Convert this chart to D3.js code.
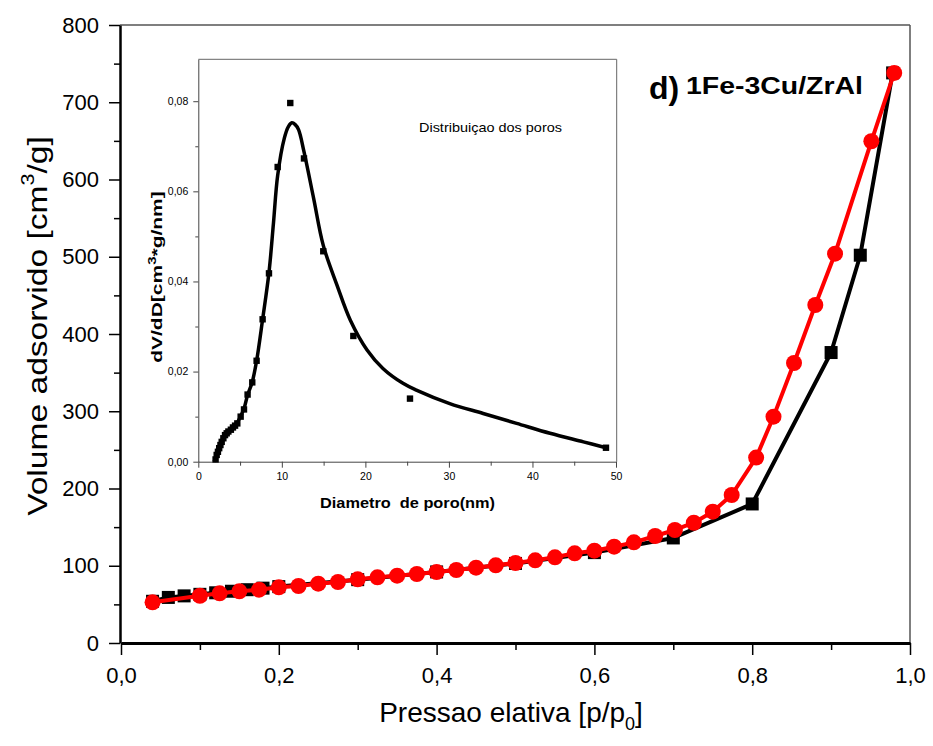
<!DOCTYPE html>
<html><head><meta charset="utf-8">
<script src="https://cdn.jsdelivr.net/npm/d3@7"></script>
<style>
html,body{margin:0;padding:0;background:#fff;}
svg{display:block;font-family:"Liberation Sans",Arial,sans-serif;}
</style></head>
<body>
<svg id="c" width="933" height="746"></svg>
<script>
// ---------- DATA ----------
// Main isotherm: black squares series
const blackP = [0.04,0.06,0.08,0.10,0.12,0.14,0.16,0.18,0.20,0.30,0.40,0.50,0.60,0.70,0.80,0.90,0.937,0.978];
const blackV = [54,59,61,63,65,67,69,71,73,82,92,103,117,136,180,376,502,738];
// Main isotherm: red circles series
const redP = [0.04,0.10,0.125,0.15,0.175,0.20,0.225,0.25,0.275,0.30,0.325,0.35,0.375,0.40,0.425,0.45,0.475,0.50,0.525,0.55,0.575,0.60,0.625,0.65,0.677,0.702,0.726,0.75,0.774,0.805,0.827,0.853,0.88,0.905,0.951,0.98];
const redV = [52.7,61.2,64.3,66.9,69,72.1,73.8,76.8,79,82.4,85,87.1,89.3,91.9,94.5,97.5,100.6,103.6,107,110.9,116.1,119.5,124.7,130.3,138.5,146.3,155.7,170,191.6,240,293,362.5,437.5,504,649.5,738];
// Inset: pore distribution points
const poreD = [2.07,2.2,2.35,2.5,2.65,2.8,3.0,3.2,3.4,3.6,3.9,4.15,4.4,4.67,5.07,5.47,5.9,6.46,6.98,7.7,8.46,9.5,11.01,12.65,14.96,18.56,25.34,48.8];
const poreV = [0.0005,0.0015,0.0022,0.003,0.0037,0.0044,0.0052,0.0059,0.0063,0.0067,0.0071,0.0076,0.0080,0.0085,0.0100,0.0116,0.0149,0.0176,0.0224,0.0316,0.0418,0.0654,0.0796,0.0673,0.0467,0.0279,0.0140,0.0031];
// Inset: fitted curve
const fitD = [1.9,2.2,2.8,3.6,4.15,4.67,5.07,5.47,5.9,6.46,6.98,7.7,8.46,9.0,9.5,10.3,10.8,11.2,11.6,12.0,12.65,13.8,14.96,16.6,18.2,20.2,22.1,24.5,26.1,30.1,34.1,38.1,42.1,46.1,48.8];
const fitV = [0,0.0015,0.0046,0.0068,0.0077,0.0087,0.0101,0.0118,0.0148,0.0177,0.0224,0.0316,0.0420,0.0530,0.0635,0.0718,0.0744,0.0752,0.0748,0.0737,0.0688,0.0585,0.0480,0.0392,0.0314,0.0248,0.0207,0.0174,0.0159,0.0129,0.0107,0.0085,0.0063,0.0044,0.0031];
// Ticks
const xMajor = [0,0.2,0.4,0.6,0.8,1.0], xMinor = [0.1,0.3,0.5,0.7,0.9];
const yMajor = [0,100,200,300,400,500,600,700,800], yMinor = [50,150,250,350,450,550,650,750];
const ixMajor = [0,10,20,30,40,50], ixMinor = [5,15,25,35,45];
const iyMajor = [0,0.02,0.04,0.06,0.08], iyMinor = [0.01,0.03,0.05,0.07];

// ---------- DRAW ----------
const svg = d3.select("#c");
const fmt1 = d => d3.format(".1f")(d).replace(".", ",");
const fmt2 = d => d3.format(".2f")(d).replace(".", ",");

const x = d3.scaleLinear().domain([0,1]).range([121,910]);
const y = d3.scaleLinear().domain([0,800]).range([643,25]);

// frame top/right
svg.append("line").attr("x1",120).attr("x2",910).attr("y1",25).attr("y2",25).attr("stroke","#000").attr("stroke-width",1.2);
svg.append("line").attr("x1",910).attr("x2",910).attr("y1",25).attr("y2",643).attr("stroke","#555").attr("stroke-width",1.5);

// axes
const gx = svg.append("g").attr("transform","translate(0,643)")
  .call(d3.axisBottom(x).tickValues(xMajor).tickFormat(fmt1).tickSize(12).tickPadding(12).tickSizeOuter(0));
svg.append("g").attr("transform","translate(0,643)")
  .call(d3.axisBottom(x).tickValues(xMinor).tickFormat("").tickSize(7).tickSizeOuter(0))
  .call(g=>g.select(".domain").remove());
const gy = svg.append("g").attr("transform","translate(120,0)")
  .call(d3.axisLeft(y).tickValues(yMajor).tickSize(11).tickPadding(10).tickSizeOuter(0));
svg.append("g").attr("transform","translate(120,0)")
  .call(d3.axisLeft(y).tickValues(yMinor).tickFormat("").tickSize(6).tickSizeOuter(0))
  .call(g=>g.select(".domain").remove());
svg.selectAll(".tick line").attr("stroke-width",1.5);
gx.select(".domain").attr("stroke-width",3);
gy.select(".domain").attr("stroke-width",2.5);
[gx,gy].forEach(g=>g.selectAll("text").attr("font-size",22).attr("font-family",'"Liberation Sans",Arial,sans-serif').attr("fill","#000"));

// axis titles
const xl = svg.append("text").attr("x",511).attr("y",722).attr("text-anchor","middle").attr("font-size",28);
xl.append("tspan").text("Pressao elativa [p/p");
xl.append("tspan").attr("font-size",18).attr("dy",8).text("0");
xl.append("tspan").attr("dy",-8).text("]");

const yl = svg.append("text").attr("transform","translate(47,326) rotate(-90) scale(1.2,1)").attr("text-anchor","middle").attr("font-size",28);
yl.append("tspan").text("Volume adsorvido [cm");
yl.append("tspan").attr("font-size",18).attr("dy",-13).text("3");
yl.append("tspan").attr("dy",13).text("/g]");

// series
const blk = blackP.map((p,i)=>({p, v:blackV[i]}));
const red = redP.map((p,i)=>({p, v:redV[i]}));
const line = d3.line().x(d=>x(d.p)).y(d=>y(d.v));
svg.append("path").datum(blk).attr("d",line).attr("fill","none").attr("stroke","#000").attr("stroke-width",4).attr("stroke-linejoin","round");
svg.append("g").selectAll("rect").data(blk).join("rect")
  .attr("x",d=>x(d.p)-6.5).attr("y",d=>y(d.v)-6.5).attr("width",13).attr("height",13).attr("fill","#000");
svg.append("path").datum(red).attr("d",line).attr("fill","none").attr("stroke","#ff0000").attr("stroke-width",4).attr("stroke-linejoin","round");
svg.append("g").selectAll("circle").data(red).join("circle")
  .attr("cx",d=>x(d.p)).attr("cy",d=>y(d.v)).attr("r",8).attr("fill","#ff0000");

// title
svg.append("text").attr("x",649).attr("y",99).attr("font-size",32).attr("font-weight","bold").text("d)");
svg.append("text").attr("x",686).attr("y",94).attr("font-size",23).attr("font-weight","bold")
  .attr("textLength",177).attr("lengthAdjust","spacingAndGlyphs").text("1Fe-3Cu/ZrAl");

// ---------- INSET ----------
const ix = d3.scaleLinear().domain([0,50]).range([198.3,616]);
const iy = d3.scaleLinear().domain([0,0.0893]).range([461.7,59.3]);
const ig = svg.append("g");
ig.append("rect").attr("x",198.3).attr("y",59.3).attr("width",616-198.3).attr("height",461.7-59.3).attr("fill","#fff");
ig.append("line").attr("x1",198.3).attr("x2",616.7).attr("y1",59.3).attr("y2",59.3).attr("stroke","#666").attr("stroke-width",1);
ig.append("line").attr("x1",616.7).attr("x2",616.7).attr("y1",59.3).attr("y2",461.7).attr("stroke","#666").attr("stroke-width",1);
const igx = ig.append("g").attr("transform","translate(0,461.7)")
  .call(d3.axisBottom(ix).tickValues(ixMajor).tickSize(6).tickPadding(5).tickSizeOuter(0));
ig.append("g").attr("transform","translate(0,461.7)")
  .call(d3.axisBottom(ix).tickValues(ixMinor).tickFormat("").tickSize(4).tickSizeOuter(0))
  .call(g=>g.select(".domain").remove());
const igy = ig.append("g").attr("transform","translate(198.3,0)")
  .call(d3.axisLeft(iy).tickValues(iyMajor).tickFormat(fmt2).tickSize(5).tickPadding(5).tickSizeOuter(0));
ig.append("g").attr("transform","translate(198.3,0)")
  .call(d3.axisLeft(iy).tickValues(iyMinor).tickFormat("").tickSize(3).tickSizeOuter(0))
  .call(g=>g.select(".domain").remove());
ig.selectAll(".domain, .tick line").attr("stroke","#444").attr("stroke-width",1);
[igx,igy].forEach(g=>g.selectAll("text").attr("font-size",10.5).attr("font-family",'"Liberation Sans",Arial,sans-serif').attr("fill","#000"));

const fit = fitD.map((d,i)=>({d, v:fitV[i]}));
ig.append("path").datum(fit).attr("d",d3.line().x(d=>ix(d.d)).y(d=>iy(d.v)).curve(d3.curveCatmullRom.alpha(0.5)))
  .attr("fill","none").attr("stroke","#000").attr("stroke-width",3.5);
ig.append("g").selectAll("rect").data(poreD.map((d,i)=>({d, v:poreV[i]}))).join("rect")
  .attr("x",d=>ix(d.d)-3.2).attr("y",d=>iy(d.v)-3.2).attr("width",6.4).attr("height",6.4).attr("fill","#000");

ig.append("text").attr("x",419).attr("y",132).attr("font-size",13)
  .attr("textLength",143).attr("lengthAdjust","spacingAndGlyphs").text("Distribuiçao dos poros");
ig.append("text").attr("x",320).attr("y",508).attr("font-size",14).attr("font-weight","bold").style("white-space","pre")
  .attr("textLength",175).attr("lengthAdjust","spacingAndGlyphs").text("Diametro  de poro(nm)");
const iyl = ig.append("text").attr("transform","translate(162,277) rotate(-90) scale(1.5,1)").attr("text-anchor","middle")
  .attr("font-size",14).attr("font-weight","bold");
iyl.append("tspan").text("dV/dD[cm");
iyl.append("tspan").attr("font-size",10).attr("dy",-6).text("3");
iyl.append("tspan").attr("dy",6).text("*g/nm]");
</script>
</body></html>
